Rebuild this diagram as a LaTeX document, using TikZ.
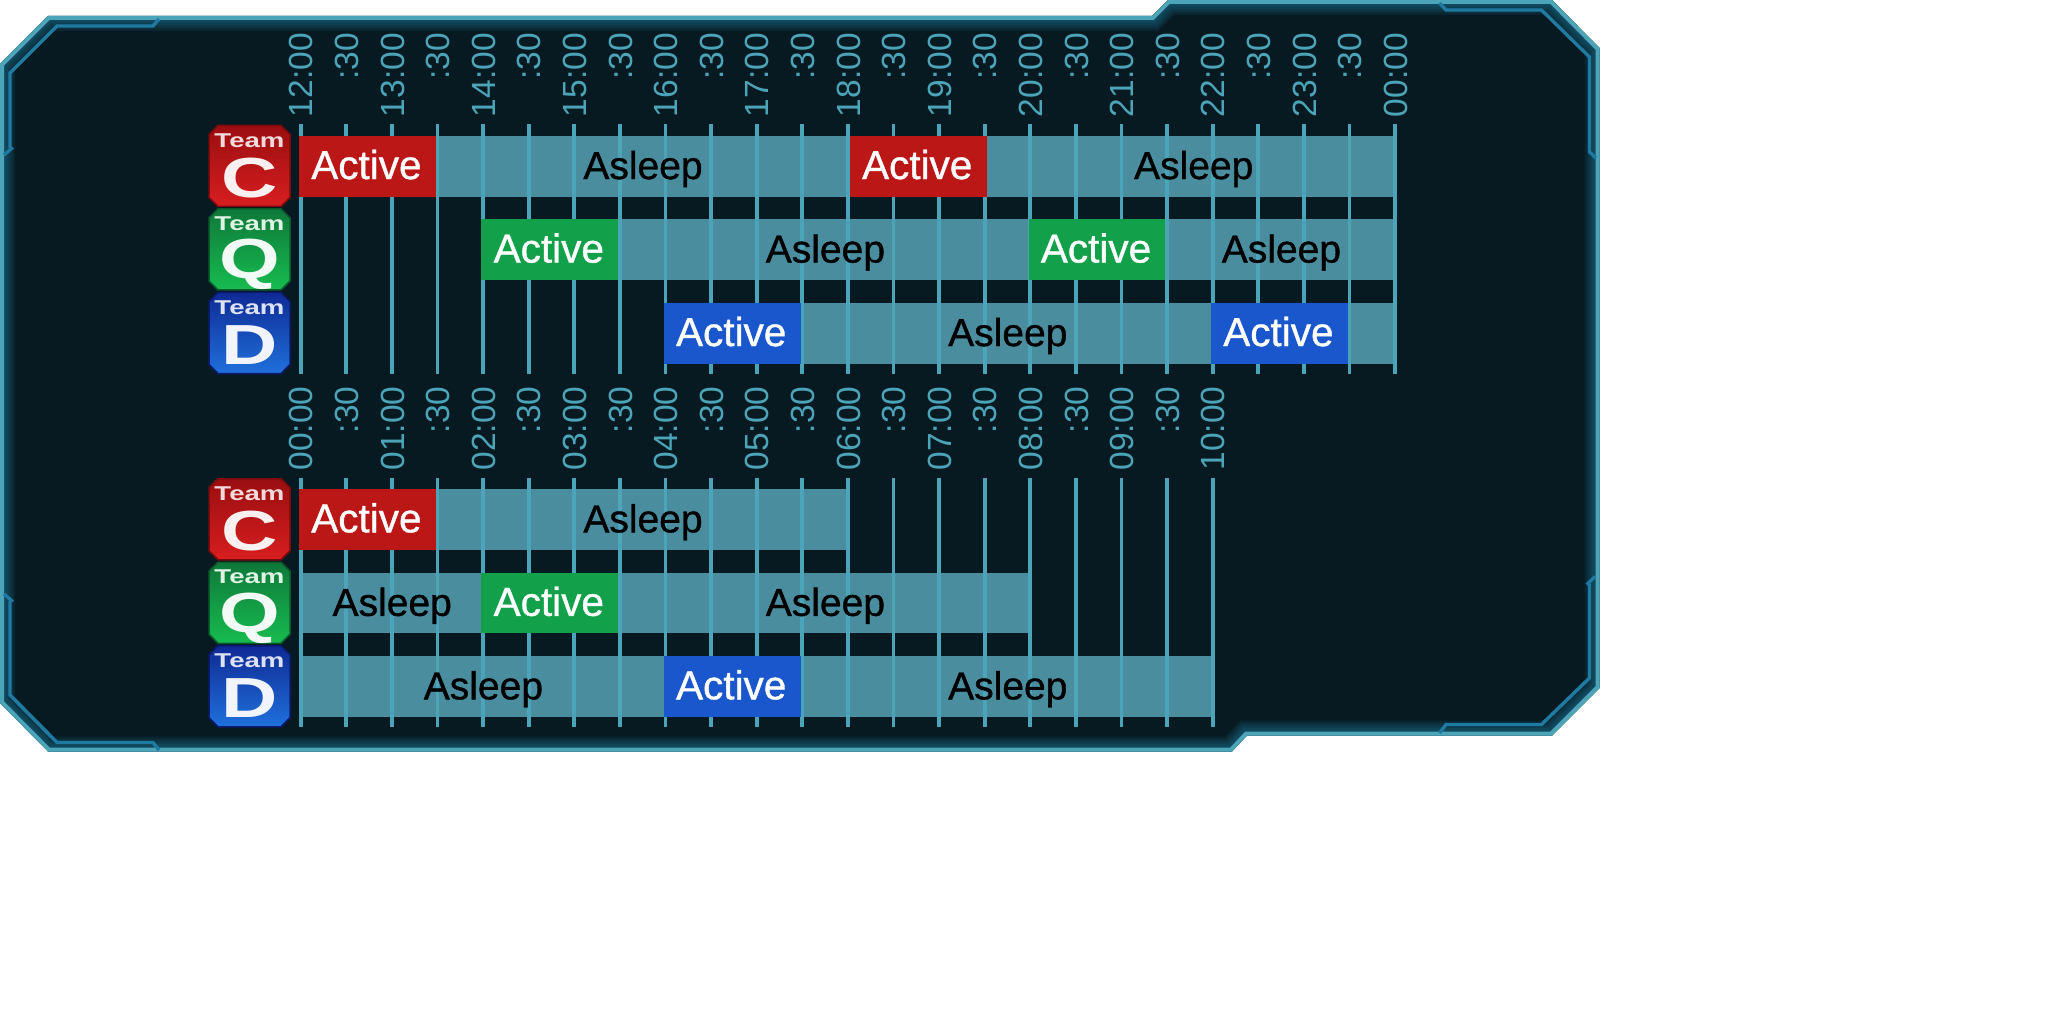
\documentclass[tikz,border=0pt]{standalone}
\usepackage{fontspec}
\setmainfont{Liberation Sans}
\newfontfamily\barfont[FakeBold=0.9]{Liberation Sans}

\definecolor{panelfill}{HTML}{081A21}
\definecolor{panelglow}{HTML}{1A6C8C}
\definecolor{panelrim}{HTML}{4CA4B8}
\definecolor{panelwire}{HTML}{1E7AA0}
\definecolor{sleepbar}{HTML}{4A8D9E}
\definecolor{activec}{HTML}{BB1716}
\definecolor{activeq}{HTML}{12A04A}
\definecolor{actived}{HTML}{1A57CC}

\tikzset{
  tickline/.style={draw=panelrim, line width=3.7pt},
  ticktext/.style={rotate=90, anchor=east, inner sep=0pt, text=panelrim, text height=24.5pt, text depth=0pt,
    font=\fontsize{33.5}{33.5}\selectfont},
  wire/.style={draw=panelwire, line width=3.4pt},
  barbox/.style={inner sep=0pt, minimum height=60.7pt},
  barword/.style={inner sep=0pt, yshift=1pt, text height=27.5pt, text depth=0pt, font=\barfont\fontsize{39}{39}\selectfont},
  activeword/.style={barword, text=white, xshift=-1pt, font=\barfont\fontsize{40.5}{40.5}\selectfont},
  badgebox/.style={line width=1.5pt},
  badgeword/.style={inner sep=0pt, text height=14.3pt, text depth=0pt, font=\bfseries\fontsize{20}{20}\selectfont},
  badgeletter/.style={inner sep=0pt, text height=40.5pt, text depth=0pt, font=\bfseries\fontsize{56.5}{56.5}\selectfont},
}

\def\panelpath{(0,64) -- (48,16) -- (1152,16) -- (1168,0) -- (1552,0) -- (1599.5,48) -- (1599.5,688)
  -- (1552,735.5) -- (1247,735.5) -- (1232,751.5) -- (48,751.5) -- (0,703) -- cycle}
\def\rowc{166.3}
\def\rowq{249.8}
\def\rowd{333.3}

% #1 row, #2 first tick, #3 last tick
\newcommand{\sleepbar}[3]{\node[barbox, fill=sleepbar, minimum width={(#3-#2)*45.6pt}]
  (s#1#2) at ({299+45.6*(#2+#3)/2},\csname row#1\endcsname) {};}
\newcommand{\sleepword}[4][2]{\node[barword, text=black, xshift=#1pt] at (s#2#3) {Asleep};}
% #1 shift, #2 row, #3 first tick
\newcommand{\activebar}[3][0]{\node[barbox, fill=active#2, minimum width=136.8pt, xshift=#1pt]
  (a#2#3) at ({299+45.6*(#3+1.5)},\csname row#2\endcsname) {};
  \node[activeword] at (a#2#3) {Active};}

\newcommand{\teambadges}{
  \foreach \n/\cy/\off/\tc/\bc/\ec/\wc in {C/166/-11/9A0E10/D81E20/7C0A0C/F3DADA, Q/249.5/-9/0E783A/17BC50/0A5C2C/DDF3E4, D/333/-11/0F2A94/1F70DC/0A1A70/DCE2F5}{
    \definecolor{topc}{HTML}{\tc}
    \definecolor{botc}{HTML}{\bc}
    \definecolor{edgec}{HTML}{\ec}
    \definecolor{wordc}{HTML}{\wc}
    \coordinate (badge\n) at (249.5,\cy);
    \draw[badgebox, draw=edgec, top color=topc, bottom color=botc] (badge\n) ++(-31.5,-40.5) -- ++(63,0) -- ++(9,9)
      -- ++(0,63) -- ++(-9,9) -- ++(-63,0) -- ++(-9,-9) -- ++(0,-63) -- cycle;
    \node[badgeword, text=wordc] at ([yshift=26pt]badge\n) {\scalebox{1.38}[1]{Team}};
    \node[badgeletter, text=wordc!40!white] at ([yshift=\off pt]badge\n) {\scalebox{1.38}[1]{\n}};
  }
}

\begin{document}
\begin{tikzpicture}[x=1pt,y=-1pt]
\useasboundingbox (0,0) rectangle (2048,1024);

% panel
\fill[panelfill] \panelpath;
\begin{scope}
  \clip \panelpath;
  \foreach \w in {30,26,22,18,15,12}{
    \draw[panelglow, opacity=0.14, line width=\w pt] \panelpath;
  }
  \draw[panelrim, line width=8pt] \panelpath;
\end{scope}

% corner wires
\draw[wire] (4,155) -- (11.5,148.5) -- (10,147) -- (10,73) -- (57,26) -- (153,26) -- (159,19);
\draw[wire] (4,594) -- (11.5,600.5) -- (10,602) -- (10,695) -- (57,742.5) -- (153,742.5) -- (159,750);
\draw[wire] (1439.5,3) -- (1446,10) -- (1541.5,10) -- (1589.5,57) -- (1589.5,152) -- (1596,158);
\draw[wire] (1595,576.5) -- (1588,583.5) -- (1589.5,585) -- (1589.5,678) -- (1541.5,724.5) -- (1446,724.5) -- (1439.5,733);

% first chart
\sleepbar{c}{3}{12}
\sleepbar{c}{15}{24}
\sleepbar{q}{7}{16}
\sleepbar{q}{19}{24}
\sleepbar{d}{11}{20}
\sleepbar{d}{23}{24}
\foreach \i/\t in {0/12:00,1/:30,2/13:00,3/:30,4/14:00,5/:30,6/15:00,7/:30,8/16:00,9/:30,10/17:00,11/:30,12/18:00,13/:30,14/19:00,15/:30,16/20:00,17/:30,18/21:00,19/:30,20/22:00,21/:30,22/23:00,23/:30,24/00:00}{
  \draw[tickline] ({300.7+45.6*\i},124.5) -- ({300.7+45.6*\i},374);
  \node[ticktext] at ({300.7+45.6*\i},33) {\t};
}
\sleepword{c}{3}{12}
\sleepword[5.5]{c}{15}{24}
\sleepword{q}{7}{16}
\sleepword{q}{19}{24}
\sleepword{d}{11}{20}
\activebar{c}{0}
\activebar[3.6]{c}{12}
\activebar{q}{4}
\activebar{q}{16}
\activebar{d}{8}
\activebar{d}{20}
\teambadges

% second chart
\begin{scope}[yshift=-353.3pt]
\sleepbar{c}{3}{12}
\sleepbar{q}{0}{4}
\sleepbar{q}{7}{16}
\sleepbar{d}{0}{8}
\sleepbar{d}{11}{20}
\foreach \i/\t in {0/00:00,1/:30,2/01:00,3/:30,4/02:00,5/:30,6/03:00,7/:30,8/04:00,9/:30,10/05:00,11/:30,12/06:00,13/:30,14/07:00,15/:30,16/08:00,17/:30,18/09:00,19/:30,20/10:00}{
  \draw[tickline] ({300.7+45.6*\i},124.5) -- ({300.7+45.6*\i},374);
  \node[ticktext] at ({300.7+45.6*\i},33) {\t};
}
\sleepword{c}{3}{12}
\sleepword{q}{0}{4}
\sleepword{q}{7}{16}
\sleepword{d}{0}{8}
\sleepword{d}{11}{20}
\activebar{c}{0}
\activebar{q}{4}
\activebar{d}{8}
\teambadges
\end{scope}
\end{tikzpicture}
\end{document}
